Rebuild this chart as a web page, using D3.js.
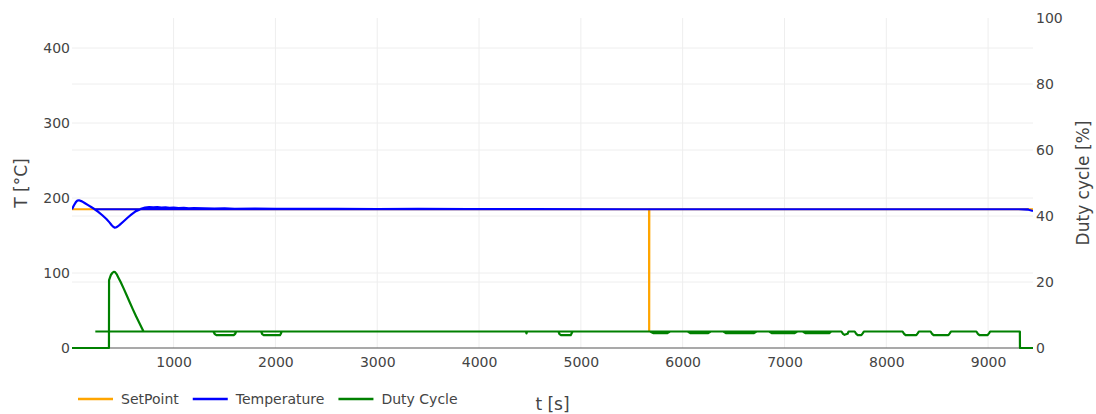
<!DOCTYPE html>
<html>
<head>
<meta charset="utf-8">
<script src="https://cdn.jsdelivr.net/npm/d3@7"></script>
<style>
  html, body { margin: 0; padding: 0; background: #fff; }
  svg { display: block; font-family: "DejaVu Sans", Verdana, sans-serif; }
</style>
</head>
<body>
<svg id="chart" width="1096" height="414"></svg>
<script>
// ---- data -------------------------------------------------------------
// time axis extent [s]
const timeExtent = [2, 9441];

// SetPoint [°C]
const setpointTime  = [2, 5670, 5671, 5672, 9441];
const setpointValue = [185, 185, 23, 185, 185];

// Temperature [°C]; a null value breaks the line (restarted log segment)
const tempTime = [2, 20, 40, 55, 70, 100, 130, 160, 190, 225, 260, 300, 340, 370, 390, 405, 420, 435, 450, 470,
  510, 550, 590, 630, 680, 720, 760, 800, 840, 880, 920, 960, 1000, 1050, 1100, 1150, 1200, 1300,
  1400, 1500, 1600, 1800, 2000, 2300, 2600, 3000, 3400, 3900, 4500, 5500, 6500, 7500, 8500, 9300,
  9385, 9415, 9441,
  null, 225, 9400];
const tempValue = [185, 190, 194.5, 196.6, 197, 195.5, 193, 190.5, 188, 185, 181.5, 177, 172, 167.5, 164, 161.9,
  160.6, 160.8, 162, 164.2, 169, 174, 178.5, 182.5, 185.5, 187.3, 188, 187.6, 187.9, 187.2, 187.5, 186.9,
  187.1, 186.6, 186.8, 186.3, 186.5, 186.1, 185.9, 186.2, 185.7, 185.8, 185.5, 185.6, 185.4, 185.3,
  185.4, 185.2, 185.1, 185, 185, 185, 185, 185, 184.6, 183.6, 182.6,
  null, 185, 185];

// Duty cycle [%]; a null value breaks the line
const dutyTime = [2, 365, 366, 385, 400, 412, 425, 440, 458, 480, 510, 540, 570, 600, 630, 660, 690, 705,
  1390, 1405, 1420, 1590, 1605, 1615,
  1860, 1870, 1885, 2045, 2055, 2062,
  4460, 4466, 4472,
  4780, 4790, 4805, 4900, 4910, 4920,
  5680, 5710, 5850, 5875, 6050, 6075, 6250, 6275, 6400, 6425, 6700, 6725, 6850, 6875, 7100, 7125,
  7180, 7205, 7440, 7460,
  7560, 7575, 7590, 7620, 7630,
  7690, 7705, 7720, 7755, 7770, 7780,
  8160, 8175, 8190, 8295, 8310, 8320,
  8435, 8450, 8465, 8610, 8625, 8635,
  8885, 8900, 8915, 8995, 9010, 9020,
  9312, 9313, 9441,
  null, 231, 7460];
const dutyValue = [0, 0, 20.6, 22.2, 22.8, 23.1, 23.0, 22.4, 21.3, 20, 18, 15.9, 13.8, 11.7, 9.7, 7.8, 5.9, 5.0,
  5.0, 4.2, 3.9, 3.9, 4.3, 5.0,
  5.0, 4.2, 3.9, 3.9, 4.4, 5.0,
  5.0, 4.4, 5.0,
  5.0, 4.2, 3.9, 3.9, 4.5, 5.0,
  5.0, 4.5, 4.5, 5.0, 5.0, 4.5, 4.5, 5.0, 5.0, 4.5, 4.5, 5.0, 5.0, 4.5, 4.5, 5.0,
  5.0, 4.5, 4.5, 5.0,
  5.0, 4.3, 4.0, 4.3, 5.0,
  5.0, 4.3, 3.9, 3.9, 4.5, 5.0,
  5.0, 4.3, 3.9, 3.9, 4.5, 5.0,
  5.0, 4.3, 3.9, 3.9, 4.5, 5.0,
  5.0, 4.3, 3.9, 3.9, 4.5, 5.0,
  5.0, 0, 0,
  null, 5.0, 5.0];

// axis ticks
const timeTicks = [1000, 2000, 3000, 4000, 5000, 6000, 7000, 8000, 9000];
const tempTicks = [0, 100, 200, 300, 400];
const dutyTicks = [0, 20, 40, 60, 80, 100];

const seriesNames  = ["SetPoint", "Temperature", "Duty Cycle"];
const seriesColors = ["#ffa500", "#0000ff", "#008000"];

// ---- layout -----------------------------------------------------------
const plot = { left: 72, right: 1033, top: 18, bottom: 348 };
const svg = d3.select("#chart");

const x  = d3.scaleLinear().domain(timeExtent).range([plot.left, plot.right]);
const yT = d3.scaleLinear().domain([0, 440]).range([plot.bottom, plot.top]);
const yD = d3.scaleLinear().domain([0, 100]).range([plot.bottom, plot.top]);

const textColor = "#444";
const gridColor = "#eeeeee";

// gridlines
const grid = svg.append("g");
grid.selectAll("line.gx").data(timeTicks).join("line")
  .attr("x1", d => x(d)).attr("x2", d => x(d))
  .attr("y1", plot.top).attr("y2", plot.bottom)
  .attr("stroke", gridColor).attr("stroke-width", 1);
grid.selectAll("line.gt").data(tempTicks.filter(d => d > 0)).join("line")
  .attr("x1", plot.left).attr("x2", plot.right)
  .attr("y1", d => yT(d)).attr("y2", d => yT(d))
  .attr("stroke", gridColor).attr("stroke-width", 1);
grid.selectAll("line.gd").data(dutyTicks.filter(d => d > 0 && d < 100)).join("line")
  .attr("class", "gd")
  .attr("x1", plot.left).attr("x2", plot.right)
  .attr("y1", d => yD(d)).attr("y2", d => yD(d))
  .attr("stroke", gridColor).attr("stroke-width", 1);

// zero line
svg.append("line")
  .attr("x1", plot.left).attr("x2", plot.right)
  .attr("y1", yT(0)).attr("y2", yT(0))
  .attr("stroke", "#555").attr("stroke-width", 1.2);

// axes (tick labels only)
const axisX = d3.axisBottom(x).tickValues(timeTicks).tickSize(0).tickPadding(9).tickFormat(d3.format("d"));
const axisL = d3.axisLeft(yT).tickValues(tempTicks).tickSize(0).tickPadding(2).tickFormat(d3.format("d"));
const axisR = d3.axisRight(yD).tickValues(dutyTicks).tickSize(0).tickPadding(3).tickFormat(d3.format("d"));

function styleAxis(g) {
  g.select(".domain").remove();
  g.selectAll("text").attr("fill", textColor)
    .style("font-size", "14px").style("font-family", "'DejaVu Sans', Verdana, sans-serif");
}
svg.append("g").attr("transform", `translate(0,${plot.bottom})`).call(axisX).call(styleAxis);
svg.append("g").attr("transform", `translate(${plot.left},0)`).call(axisL).call(styleAxis);
svg.append("g").attr("transform", `translate(${plot.right},0)`).call(axisR).call(styleAxis);

// axis titles
svg.append("text")
  .attr("transform", `translate(20.5,${(plot.top + plot.bottom) / 2}) rotate(-90)`)
  .attr("text-anchor", "middle").attr("dominant-baseline", "central")
  .attr("fill", textColor).style("font-size", "17px").text("T [°C]");
svg.append("text")
  .attr("transform", `translate(1083,${(plot.top + plot.bottom) / 2}) rotate(-90)`)
  .attr("text-anchor", "middle").attr("dominant-baseline", "central")
  .attr("fill", textColor).style("font-size", "17px").text("Duty cycle [%]");
svg.append("text")
  .attr("x", (plot.left + plot.right) / 2).attr("y", 404)
  .attr("text-anchor", "middle").attr("dominant-baseline", "central")
  .attr("fill", textColor).style("font-size", "17px").text("t [s]");

// ---- traces -----------------------------------------------------------
svg.append("clipPath").attr("id", "plotclip").append("rect")
  .attr("x", plot.left).attr("y", plot.top - 2)
  .attr("width", plot.right - plot.left).attr("height", plot.bottom - plot.top + 4);

function drawTrace(times, values, yScale, color) {
  const pts = times.map((t, i) => ({ t, v: values[i] }));
  const line = d3.line()
    .defined(d => d.v !== null && d.t !== null)
    .x(d => x(d.t)).y(d => yScale(d.v));
  svg.append("path")
    .attr("clip-path", "url(#plotclip)")
    .attr("d", line(pts))
    .attr("fill", "none").attr("stroke", color)
    .attr("stroke-width", 2.2).attr("stroke-linejoin", "round");
}
drawTrace(setpointTime, setpointValue, yT, seriesColors[0]);
drawTrace(tempTime, tempValue, yT, seriesColors[1]);
drawTrace(dutyTime, dutyValue, yD, seriesColors[2]);

// ---- legend -----------------------------------------------------------
const legend = svg.append("g").attr("transform", "translate(78,399)");
let cursor = 0;
seriesNames.forEach((name, i) => {
  const item = legend.append("g").attr("transform", `translate(${cursor},0)`);
  item.append("line").attr("x1", 0).attr("x2", 35).attr("y1", 0).attr("y2", 0)
    .attr("stroke", seriesColors[i]).attr("stroke-width", 2.5);
  const label = item.append("text").attr("x", 43).attr("y", 0)
    .attr("dominant-baseline", "central").attr("fill", textColor)
    .style("font-size", "14px").text(name);
  cursor += 43 + label.node().getComputedTextLength() + 14;
});
</script>
</body>
</html>
